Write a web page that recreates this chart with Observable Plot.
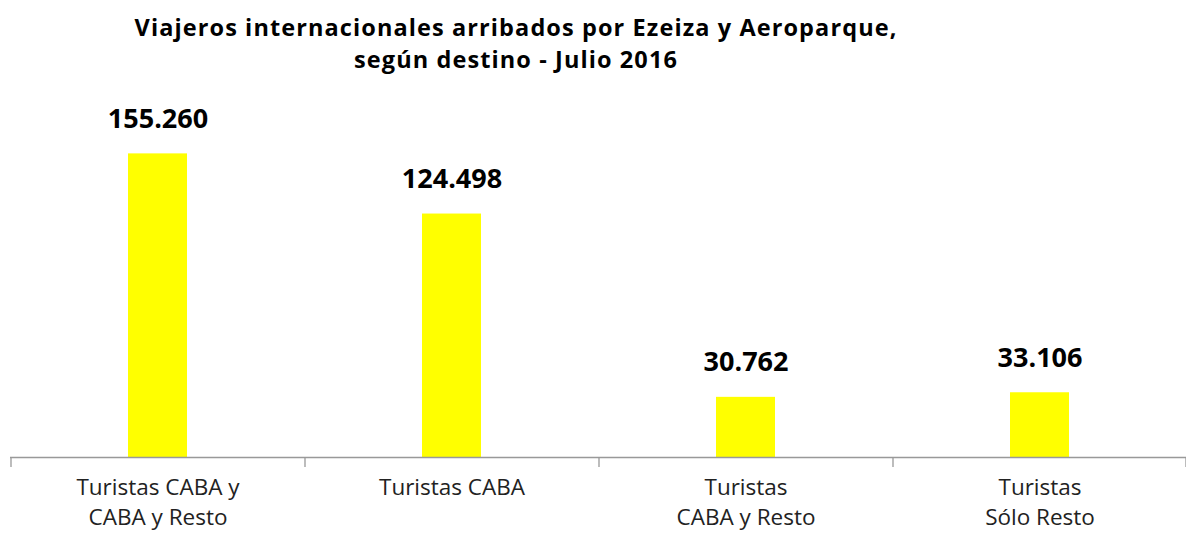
<!DOCTYPE html>
<html>
<head>
<meta charset="utf-8">
<script src="https://cdn.jsdelivr.net/npm/d3@7"></script>
<script src="https://cdn.jsdelivr.net/npm/@observablehq/plot@0.6"></script>
<style>
  html, body { margin: 0; padding: 0; background: #fff; }
  #title { width: 1032px; height: 90px; box-sizing: border-box; padding-top: 11px; text-align: center;
    font-family: "Open Sans", sans-serif; font-weight: bold; font-size: 23.5px; line-height: 32px;
    letter-spacing: 1.1px; color: #000; }
</style>
</head>
<body>
<div id="title">Viajeros internacionales arribados por Ezeiza y Aeroparque,<br>según destino - Julio 2016</div>
<div id="chart"></div>
<script>
const categories = ["Turistas CABA y\nCABA y Resto", "Turistas CABA", "Turistas\nCABA y Resto", "Turistas\nSólo Resto"];
const values = [155260, 124498, 30762, 33106];

const data = categories.map((c, i) => ({cat: c, value: values[i]}));
const es = d3.formatLocale({decimal: ",", thousands: ".", grouping: [3], currency: ["", ""]});
const fmt = es.format(",");

const width = 1186, marginLeft = 10, marginRight = 0;
const step = (width - marginLeft - marginRight) / categories.length;

const plot = Plot.plot({
  width, height: 443,
  marginTop: 15, marginBottom: 76, marginLeft, marginRight,
  style: {fontFamily: "Open Sans, sans-serif", background: "#fff"},
  x: {domain: categories, paddingInner: 0.8, paddingOuter: 0.4, axis: null},
  y: {domain: [0, 180000], axis: null},
  marks: [
    Plot.barY(data, {x: "cat", y: "value", fill: "#FFFF00"}),
    Plot.ruleY([0], {stroke: "#999", strokeWidth: 1.3}),
    Plot.ruleX(data, {x: "cat", y1: 0, y2: 0, insetBottom: -10, dx: -step / 2, stroke: "#999", strokeWidth: 1.3}),
    Plot.ruleX(data.slice(-1), {x: "cat", y1: 0, y2: 0, insetBottom: -10, dx: step / 2 - 1, stroke: "#999", strokeWidth: 1.3}),
    Plot.text(data, {x: "cat", y: "value", text: d => fmt(d.value), lineAnchor: "bottom", dy: -26,
      fontSize: 27, fontWeight: "bold", fill: "#000"}),
    Plot.text(data, {x: "cat", y: 0, text: "cat", lineAnchor: "top", dy: 16, lineHeight: 1.33,
      fontSize: 22.5, fill: "#222"})
  ]
});
document.getElementById("chart").appendChild(plot);
</script>
</body>
</html>
